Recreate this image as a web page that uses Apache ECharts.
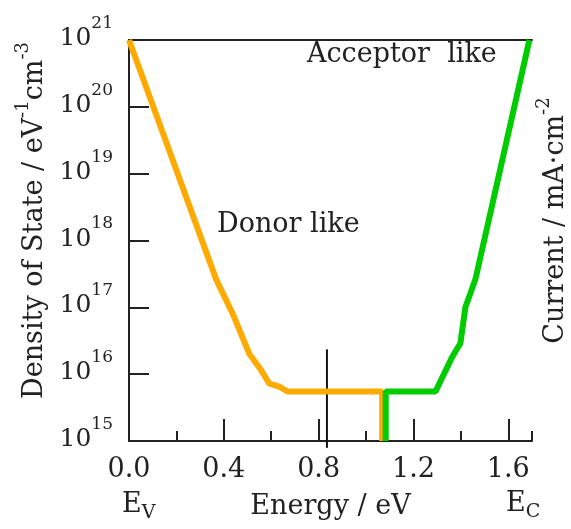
<!DOCTYPE html>
<html>
<head>
<meta charset="utf-8">
<title>Density of State</title>
<script src="https://cdn.jsdelivr.net/npm/echarts@6/dist/echarts.min.js"></script>
<style>
    html, body { margin: 0; padding: 0; background: #fff; }
    #chart { width: 571px; height: 529px; }
</style>
</head>
<body>
<div id="chart"></div>
<script>
// donor like states (orange), energy in eV, density in eV-1 cm-3
var donorX = [0, 0.368, 0.437, 0.508, 0.557, 0.592, 0.634, 0.668, 1.068, 1.068];
var donorY = [1e21, 2.6e17, 8.1e16, 2.0e16, 1.15e16, 7.2e15, 6.5e15, 5.5e15, 5.5e15, 1e15];

// acceptor like states (green)
var acceptorX = [1.083, 1.083, 1.293, 1.363, 1.398, 1.419, 1.461, 1.689];
var acceptorY = [1e15, 5.5e15, 5.5e15, 1.8e16, 2.9e16, 1.0e17, 2.6e17, 1e21];

// thin vertical marker (goes a little below the axis)
var markerX = [0.835, 0.835];
var markerY = [2.35e16, 7.9e14];

var xMajorTicks = [0.0, 0.4, 0.8, 1.2, 1.6];

var FONT = 'DejaVu Serif';
var INK = '#222';

function zip(xs, ys) {
    var out = [];
    for (var i = 0; i < xs.length; i++) {
        out.push([xs[i], ys[i]]);
    }
    return out;
}

// superscript rich styles: small for tick labels, large for axis names
var tickRich = {
    b: { fontSize: 25, fontFamily: FONT, color: INK, lineHeight: 36, verticalAlign: 'bottom' },
    s: { fontSize: 17, fontFamily: FONT, color: INK, lineHeight: 36, verticalAlign: 'top' }
};
var nameRich = {
    b: { fontSize: 27, fontFamily: FONT, color: INK, lineHeight: 34, verticalAlign: 'bottom' },
    s: { fontSize: 18, fontFamily: FONT, color: INK, lineHeight: 34, verticalAlign: 'top' }
};
var subRich = {
    e: { fontSize: 27, fontFamily: FONT, fill: INK, lineHeight: 32, verticalAlign: 'top' },
    v: { fontSize: 19, fontFamily: FONT, fill: INK, lineHeight: 32, verticalAlign: 'bottom' }
};

var myChart = echarts.init(document.getElementById('chart'));

var option = {
    animation: false,
    grid: {
        left: 129,
        right: 39,
        top: 40,
        bottom: 88,
        containLabel: false,
        outerBoundsMode: 'none'
    },
    xAxis: [{
        type: 'value',
        min: 0,
        max: 1.7,
        interval: 0.4,
        position: 'bottom',
        axisLine: { lineStyle: { color: INK, width: 2 } },
        axisTick: { inside: true, length: 22, lineStyle: { color: INK, width: 2 } },
        axisLabel: {
            margin: 15,
            fontSize: 27,
            fontFamily: FONT,
            color: INK,
            showMaxLabel: false,
            formatter: function (v) {
                for (var i = 0; i < xMajorTicks.length; i++) {
                    if (Math.abs(v - xMajorTicks[i]) < 1e-6) return v.toFixed(1);
                }
                return '';
            }
        },
        splitLine: { show: false },
        name: 'Energy / eV',
        nameLocation: 'middle',
        nameGap: 52,
        nameTextStyle: { fontSize: 27, fontFamily: FONT, color: INK }
    }, {
        type: 'value',
        min: 0,
        max: 1.7,
        interval: 0.2,
        position: 'bottom',
        offset: 0,
        axisLine: { show: false },
        axisTick: { inside: true, length: 10, lineStyle: { color: INK, width: 2 } },
        axisLabel: { show: false },
        splitLine: { show: false }
    }, {
        type: 'value',
        min: 0,
        max: 1.7,
        position: 'top',
        offset: 0,
        axisLine: { lineStyle: { color: INK, width: 2 } },
        axisTick: { show: false },
        axisLabel: { show: false },
        splitLine: { show: false }
    }],
    yAxis: [{
        type: 'log',
        logBase: 10,
        min: 1e15,
        max: 1e21,
        position: 'left',
        axisLine: { show: true, lineStyle: { color: INK, width: 2 } },
        axisTick: { show: true, inside: true, length: 20, lineStyle: { color: INK, width: 2 } },
        axisLabel: {
            margin: 16,
            padding: [0, 0, 14, 0],
            formatter: function (v) {
                return '{b|10}{s|' + Math.round(Math.log10(v)) + '}';
            },
            rich: tickRich
        },
        minorTick: { show: false },
        splitLine: { show: false },
        name: '{b|Density of State / eV}{s|-1}{b|cm}{s|-3}',
        nameLocation: 'middle',
        nameGap: 80,
        nameTextStyle: { padding: [0, 0, 0, 40], rich: nameRich }
    }, {
        type: 'log',
        logBase: 10,
        min: 1e15,
        max: 1e21,
        position: 'right',
        axisLine: { show: true, lineStyle: { color: INK, width: 2 } },
        axisTick: { show: false },
        axisLabel: { show: false },
        splitLine: { show: false },
        name: '{b|Current / mA·cm}{s|-2}',
        nameLocation: 'middle',
        nameGap: 3,
        nameTextStyle: { padding: [0, 0, 0, 40], rich: nameRich }
    }],
    graphic: [{
        type: 'text',
        x: 307,
        y: 41,
        style: { text: 'Acceptor  like', fontSize: 27, fontFamily: FONT, fill: INK }
    }, {
        type: 'text',
        x: 217,
        y: 211,
        style: { text: 'Donor like', fontSize: 27, fontFamily: FONT, fill: INK }
    }, {
        type: 'text',
        x: 122,
        y: 491,
        style: { text: '{e|E}{v|V}', rich: subRich }
    }, {
        type: 'text',
        x: 506,
        y: 490,
        style: { text: '{e|E}{v|C}', rich: subRich }
    }],
    series: [{
        name: 'marker',
        type: 'line',
        xAxisIndex: 0,
        yAxisIndex: 0,
        data: zip(markerX, markerY),
        showSymbol: false,
        clip: false,
        lineStyle: { color: '#111', width: 2 },
        z: 1
    }, {
        name: 'Donor like',
        type: 'line',
        xAxisIndex: 0,
        yAxisIndex: 0,
        data: zip(donorX, donorY),
        showSymbol: false,
        clip: false,
        lineStyle: { color: '#FFAA00', width: 6 },
        z: 3
    }, {
        name: 'Acceptor like',
        type: 'line',
        xAxisIndex: 0,
        yAxisIndex: 0,
        data: zip(acceptorX, acceptorY),
        showSymbol: false,
        clip: false,
        lineStyle: { color: '#00CC00', width: 6 },
        z: 4
    }]
};

myChart.setOption(option);
</script>
</body>
</html>
